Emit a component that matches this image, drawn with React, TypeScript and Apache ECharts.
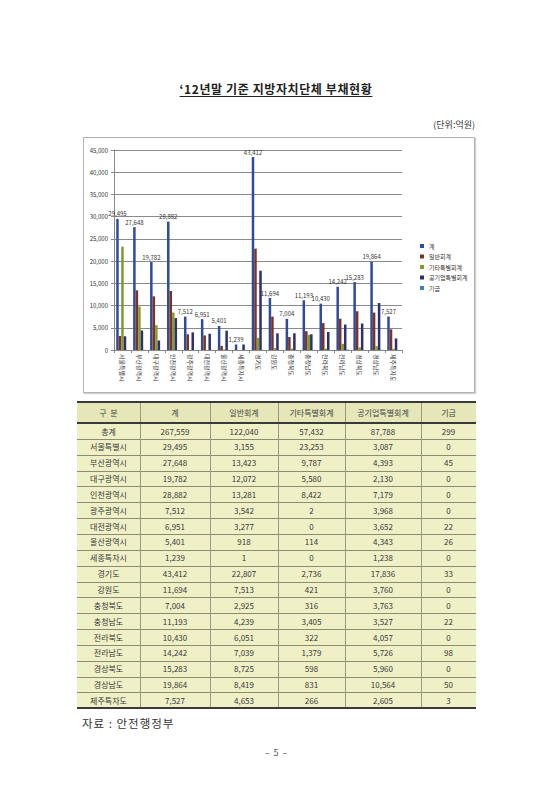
import React, { useEffect, useRef } from "react";
import * as echarts from "echarts";

const categories = [
  "서울특별시", "부산광역시", "대구광역시", "인천광역시", "광주광역시", "대전광역시",
  "울산광역시", "세종특자시", "경기도", "강원도", "충청북도", "충청남도",
  "전라북도", "전라남도", "경상북도", "경상남도", "제주특자도",
];
const seriesNames = ["계", "일반회계", "기타특별회계", "공기업특별회계", "기금"];
const totalVals = [29495, 27648, 19782, 28882, 7512, 6951, 5401, 1239, 43412, 11694, 7004, 11193, 10430, 14242, 15283, 19864, 7527];
const generalVals = [3155, 13423, 12072, 13281, 3542, 3277, 918, 1, 22807, 7513, 2925, 4239, 6051, 7039, 8725, 8419, 4653];
const otherVals = [23253, 9787, 5580, 8422, 2, 0, 114, 0, 2736, 421, 316, 3405, 322, 1379, 598, 831, 266];
const enterpriseVals = [3087, 4393, 2130, 7179, 3968, 3652, 4343, 1238, 17836, 3760, 3763, 3527, 4057, 5726, 5960, 10564, 2605];
const fundVals = [0, 45, 0, 0, 0, 22, 26, 0, 33, 0, 0, 22, 0, 98, 0, 50, 3];
const grandTotal = ["총계", 267559, 122040, 57432, 87788, 299];
const tableHeader = ["구  분", "계", "일반회계", "기타특별회계", "공기업특별회계", "기금"];
const yTicks = { min: 0, max: 45000, interval: 5000 };

const colors = ["#2f4b9f", "#7e3322", "#7f9c2c", "#2c3070", "#3d7fc2"];
const FONT = "'Noto Sans CJK KR', 'Noto Sans', sans-serif";

const fmt = (v: number) => v.toLocaleString("en-US");

function Chart() {
  const ref = useRef<HTMLDivElement>(null);
  useEffect(() => {
    if (!ref.current) return;
    const chart = echarts.init(ref.current, undefined, { renderer: "svg" });
    const data = [totalVals, generalVals, otherVals, enterpriseVals, fundVals];
    chart.setOption({
      animation: false,
      textStyle: { fontFamily: FONT },
      color: colors,
      grid: { left: 30, top: 12, right: 72, bottom: 42, containLabel: false },
      legend: {
        orient: "vertical",
        left: 331,
        top: 100,
        itemWidth: 4,
        itemHeight: 4,
        itemGap: 4.5,
        icon: "rect",
        textStyle: { fontSize: 6, color: "#333", fontFamily: FONT },
        data: seriesNames,
      },
      xAxis: {
        type: "category",
        data: categories,
        axisLine: { lineStyle: { color: "#888", width: 1 } },
        axisTick: { show: true, length: 3, lineStyle: { color: "#888" } },
        axisLabel: {
          rotate: -90,
          interval: 0,
          fontSize: 6,
          color: "#333",
          margin: 4,
          fontFamily: FONT,
        },
      },
      yAxis: {
        type: "value",
        min: yTicks.min,
        max: yTicks.max,
        interval: yTicks.interval,
        axisLine: { show: true, lineStyle: { color: "#888", width: 1 } },
        axisTick: { show: true, length: 3, lineStyle: { color: "#888" } },
        axisLabel: {
          fontSize: 6,
          color: "#333",
          margin: 6,
          fontFamily: FONT,
          formatter: (v: number) => fmt(v),
        },
        splitLine: { lineStyle: { color: "#8a8a8a", width: 1 } },
      },
      series: seriesNames.map((name, i) => ({
        name,
        type: "bar",
        data: data[i],
        barGap: "0%",
        barCategoryGap: "26%",
        label:
          i === 0
            ? {
                show: true,
                position: "top",
                distance: 2,
                fontSize: 6,
                color: "#333",
                fontFamily: FONT,
                formatter: (p: any) => fmt(p.value),
              }
            : { show: false },
      })),
    });
    return () => chart.dispose();
  }, []);
  return (
    <div
      style={{
        position: "absolute",
        left: 83,
        top: 137,
        width: 392,
        height: 256,
        border: "1px solid #b4b4b4",
        boxShadow: "1px 1px 1px #d0d0d0",
        boxSizing: "border-box",
        background: "#fff",
      }}
    >
      <div ref={ref} style={{ width: 390, height: 254 }} />
    </div>
  );
}

const colEdges = [77, 140, 210, 278, 345, 421, 476];
const TABLE_TOP = 402;
const HEADER_H = 21;
const ROW_H = 15.85;

function Table() {
  const rows: (string | number)[][] = [grandTotal];
  categories.forEach((c, i) => {
    rows.push([c, totalVals[i], generalVals[i], otherVals[i], enterpriseVals[i], fundVals[i]]);
  });
  const bodyTop = TABLE_TOP + HEADER_H;
  const bottom = bodyTop + rows.length * ROW_H;
  const width = colEdges[colEdges.length - 1] - colEdges[0];
  const els: React.ReactNode[] = [];
  els.push(
    <div key="bgh" style={{ position: "absolute", left: colEdges[0], top: TABLE_TOP, width, height: HEADER_H, background: "#e5e7b9" }} />
  );
  els.push(
    <div key="bgb" style={{ position: "absolute", left: colEdges[0], top: bodyTop, width, height: bottom - bodyTop, background: "#eff0c6" }} />
  );
  for (let i = 1; i < rows.length; i++) {
    els.push(
      <div key={"rl" + i} style={{ position: "absolute", left: colEdges[0], top: Math.round(bodyTop + i * ROW_H), width, height: 1, background: "#8c8c74" }} />
    );
  }
  for (let j = 1; j < colEdges.length - 1; j++) {
    els.push(
      <div key={"cl" + j} style={{ position: "absolute", left: colEdges[j], top: TABLE_TOP, width: 1, height: bottom - TABLE_TOP, background: "#9a9a82" }} />
    );
  }
  [TABLE_TOP - 1, bodyTop - 1, Math.round(bottom) - 1].forEach((y, k) => {
    els.push(
      <div key={"tl" + k} style={{ position: "absolute", left: colEdges[0], top: y, width, height: 2, background: "#3a3a3a" }} />
    );
  });
  const cell = (text: string, j: number, top: number, h: number, key: string, color: string) => (
    <div
      key={key}
      style={{
        position: "absolute",
        left: colEdges[j],
        width: colEdges[j + 1] - colEdges[j],
        top,
        height: h,
        lineHeight: h + "px",
        textAlign: "center",
        fontSize: 8,
        color,
        whiteSpace: "pre",
      }}
    >
      {text}
    </div>
  );
  tableHeader.forEach((h, j) => els.push(cell(h, j, TABLE_TOP, HEADER_H, "h" + j, "#444")));
  rows.forEach((r, i) =>
    r.forEach((v, j) =>
      els.push(cell(typeof v === "number" ? fmt(v) : v, j, bodyTop + i * ROW_H + 0.5, ROW_H, "c" + i + "_" + j, "#3a3a3a"))
    )
  );
  return <>{els}</>;
}

export default function App() {
  return (
    <div
      style={{
        position: "absolute",
        left: 0,
        top: 0,
        width: 552,
        height: 800,
        background: "#fff",
        fontFamily: FONT,
        overflow: "hidden",
      }}
    >
      <div
        style={{
          position: "absolute",
          left: 0,
          width: 552,
          top: 80,
          textAlign: "center",
          fontSize: 12,
          fontWeight: 700,
          color: "#222",
          textDecoration: "underline",
          textUnderlineOffset: 2,
          letterSpacing: 0.6,
          lineHeight: "17px",
        }}
      >
        ‘12년말 기준 지방자치단체 부채현황
      </div>
      <div
        style={{
          position: "absolute",
          right: 77,
          top: 118,
          fontSize: 9,
          color: "#333",
          lineHeight: "14px",
        }}
      >
        (단위:억원)
      </div>
      <Chart />
      <Table />
      <div
        style={{
          position: "absolute",
          left: 82,
          top: 715,
          fontSize: 11.5,
          color: "#333",
          lineHeight: "16px",
          letterSpacing: 1,
        }}
      >
        자료 : 안전행정부
      </div>
      <div
        style={{
          position: "absolute",
          left: 0,
          width: 552,
          top: 746,
          textAlign: "center",
          fontSize: 9,
          color: "#555",
          lineHeight: "14px",
          whiteSpace: "pre",
        }}
      >
        {"–  5  –"}
      </div>
    </div>
  );
}
